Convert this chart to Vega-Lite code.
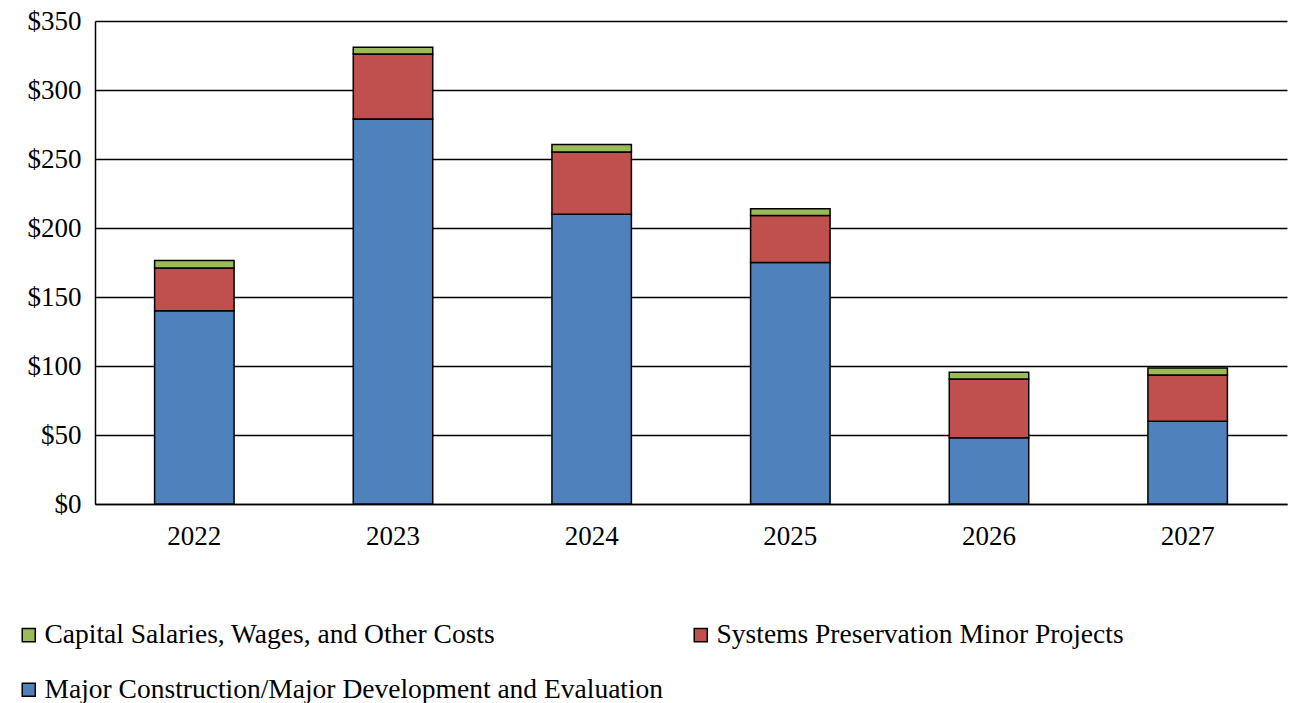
{
  "$schema": "https://vega.github.io/schema/vega-lite/v6.json",
  "width": 1192,
  "height": 483,
  "autosize": {"type": "none"},
  "padding": {"left": 95, "top": 21, "right": 4, "bottom": 199},
  "background": "white",
  "config": {
    "view": {"stroke": null},
    "font": "Liberation Serif",
    "axis": {
      "labelFont": "Liberation Serif",
      "labelFontSize": 27,
      "labelColor": "#000",
      "domainColor": "#000",
      "domainWidth": 1.5,
      "ticks": false,
      "title": null
    },
    "legend": {
      "labelFont": "Liberation Serif",
      "labelFontSize": 27.5,
      "labelColor": "#000"
    }
  },
  "data": {
    "values": [
      {"year": "2022", "category": "Major Construction/Major Development and Evaluation", "amount": 140},
      {"year": "2022", "category": "Systems Preservation Minor Projects", "amount": 31},
      {"year": "2022", "category": "Capital Salaries, Wages, and Other Costs", "amount": 5.5},
      {"year": "2023", "category": "Major Construction/Major Development and Evaluation", "amount": 279},
      {"year": "2023", "category": "Systems Preservation Minor Projects", "amount": 47},
      {"year": "2023", "category": "Capital Salaries, Wages, and Other Costs", "amount": 5},
      {"year": "2024", "category": "Major Construction/Major Development and Evaluation", "amount": 210},
      {"year": "2024", "category": "Systems Preservation Minor Projects", "amount": 45},
      {"year": "2024", "category": "Capital Salaries, Wages, and Other Costs", "amount": 5.5},
      {"year": "2025", "category": "Major Construction/Major Development and Evaluation", "amount": 175},
      {"year": "2025", "category": "Systems Preservation Minor Projects", "amount": 34},
      {"year": "2025", "category": "Capital Salaries, Wages, and Other Costs", "amount": 5},
      {"year": "2026", "category": "Major Construction/Major Development and Evaluation", "amount": 48},
      {"year": "2026", "category": "Systems Preservation Minor Projects", "amount": 42.5},
      {"year": "2026", "category": "Capital Salaries, Wages, and Other Costs", "amount": 5},
      {"year": "2027", "category": "Major Construction/Major Development and Evaluation", "amount": 60},
      {"year": "2027", "category": "Systems Preservation Minor Projects", "amount": 33.5},
      {"year": "2027", "category": "Capital Salaries, Wages, and Other Costs", "amount": 5}
    ]
  },
  "transform": [
    {"calculate": "indexof(['Major Construction/Major Development and Evaluation', 'Systems Preservation Minor Projects', 'Capital Salaries, Wages, and Other Costs'], datum.category)", "as": "stackOrder"}
  ],
  "mark": {"type": "bar", "stroke": "#000", "strokeWidth": 1.5},
  "encoding": {
    "x": {
      "field": "year",
      "type": "ordinal",
      "scale": {"paddingInner": 0.6, "paddingOuter": 0.3},
      "axis": {"labelAngle": 0, "labelPadding": 19, "grid": false}
    },
    "y": {
      "field": "amount",
      "type": "quantitative",
      "aggregate": "sum",
      "scale": {"domain": [0, 350], "nice": false},
      "axis": {
        "values": [0, 50, 100, 150, 200, 250, 300, 350],
        "format": "$.0f",
        "labelPadding": 14,
        "grid": true,
        "gridColor": "#000",
        "gridWidth": 1.5,
        "domain": true
      }
    },
    "color": {
      "field": "category",
      "type": "nominal",
      "scale": {
        "domain": ["Capital Salaries, Wages, and Other Costs", "Major Construction/Major Development and Evaluation", "Systems Preservation Minor Projects"],
        "range": ["#9BBB59", "#4F81BD", "#C0504D"]
      },
      "legend": {
        "title": null,
        "orient": "none",
        "legendX": -80,
        "legendY": 600,
        "columns": 2,
        "columnPadding": 23,
        "rowPadding": 26,
        "symbolType": "square",
        "symbolSize": 170,
        "symbolStrokeColor": "#000",
        "symbolStrokeWidth": 1.5,
        "labelOffset": 2,
        "labelLimit": 800
      }
    },
    "order": {"field": "stackOrder", "type": "quantitative", "sort": "ascending"}
  }
}
